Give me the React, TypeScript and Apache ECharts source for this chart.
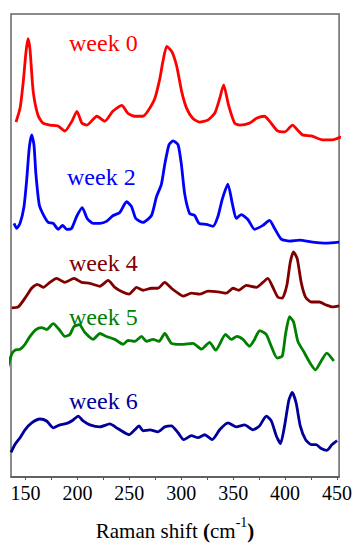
import React, { useEffect, useRef } from "react";
import * as echarts from "echarts";

// Raman shift (cm-1) sample positions and displayed (offset-stacked) intensities, arbitrary units
const week0Shift = [140.8, 144.7, 147.8, 150.4, 152.3, 154.3, 157.4, 162, 166.8, 173.5, 181.2, 187.9, 194.7, 199.5, 204.3, 209.1, 218.7, 226.4, 234, 242.7, 248.5, 255.2, 262.9, 267.7, 274.5, 279.3, 282.2, 286, 290.8, 295.6, 300.4, 305.2, 311, 317.7, 325.4, 332.2, 337, 340.8, 345.6, 351.4, 356.2, 365.8, 372.5, 380.2, 385, 392.7, 399.5, 407.2, 412, 416.8, 425.4, 436, 445.6, 454];
const week0Signal = [361, 375, 402, 432, 446, 435, 392, 368, 360, 358, 357, 352, 362, 372, 360, 358, 367, 362, 372, 378, 370, 367, 367, 372, 385, 405, 422, 438, 433, 418, 392, 375, 365, 361, 363, 370, 385, 399, 378, 360, 358, 360, 365, 367, 362, 352, 351, 358, 353, 348, 347, 343, 343, 346];

const week2Shift = [138.9, 141.5, 144.7, 148.5, 151.1, 153.6, 155.9, 158.1, 160, 163.2, 167.1, 171.9, 176.7, 181.5, 185.7, 189.6, 194.4, 199.2, 204.6, 209.4, 215.1, 221.6, 228, 234.4, 240.8, 247.3, 252.1, 256.2, 263.2, 271.3, 276.1, 280.9, 284.1, 288.2, 292.1, 296.9, 300.1, 303.3, 308.1, 312.9, 317.1, 324.2, 330.5, 335.3, 339.6, 344.9, 349.2, 353, 357.8, 364.2, 370.6, 378.6, 385, 389.8, 396.3, 404.3, 413.9, 426.7, 439.6, 452];
const week2Signal = [258, 253, 258, 275, 302, 335, 348, 338, 308, 277, 267, 259, 258, 252, 256, 252, 253, 265, 274, 263, 258, 258, 260, 266, 269, 280, 275, 263, 259, 266, 285, 298, 318, 338, 342, 338, 318, 288, 268, 266, 258, 257, 255, 265, 283, 298, 278, 263, 267, 262, 252, 256, 261, 253, 242, 240, 241, 239, 238, 239];

const week4Shift = [136.7, 143, 149.5, 155.9, 161.3, 167.1, 173.5, 179.9, 187.9, 196.6, 204, 212, 221.6, 229.6, 236, 244, 249.8, 256.9, 263.2, 271.3, 277.6, 284.1, 290.5, 296.9, 301.7, 309.8, 317.7, 325.7, 337, 343.4, 349.8, 355.5, 362.6, 372.3, 378.6, 383.4, 388.2, 393, 397.3, 401.7, 404.9, 408.1, 411.7, 415.5, 419.7, 425.1, 433.1, 439.6, 445.9, 452];
const week4Signal = [172, 173, 182, 192, 196, 193, 198, 202, 198, 202, 198, 197, 194, 200, 193, 188, 186, 193, 190, 192, 192, 198, 192, 187, 184, 187, 186, 189, 188, 187, 192, 190, 195, 193, 198, 202, 193, 183, 182, 195, 218, 229, 222, 198, 183, 178, 178, 175, 173, 174];

const week5Shift = [132.4, 136.7, 139.8, 144.7, 149.5, 154.3, 160, 165.5, 170.3, 176.7, 182.4, 187.9, 192.7, 196.6, 201.7, 207.2, 215.1, 221.6, 228, 236, 244, 248.8, 255.2, 261.7, 266.5, 272.8, 278.6, 284.1, 290.5, 300.1, 311.3, 319.4, 327.3, 333.1, 342.7, 348.2, 353.6, 359.4, 365.8, 370.6, 375.4, 381.9, 386.7, 392.4, 397.3, 400.4, 404.3, 408.1, 412.3, 417.7, 423.5, 429.3, 434.8, 440.1, 446.9];
const week5Signal = [110, 125, 129, 130, 135, 143, 150, 152, 150, 156, 150, 143, 145, 153, 155, 147, 140, 146, 143, 140, 135, 139, 138, 143, 138, 140, 138, 146, 136, 135, 136, 130, 137, 129, 145, 140, 143, 140, 133, 140, 149, 145, 133, 121, 123, 145, 163, 158, 138, 128, 117, 109, 118, 126, 118];

const week6Shift = [136, 139.8, 144.7, 149.5, 155.9, 163.9, 170.3, 176.7, 183.1, 191.1, 195.9, 200.7, 205.5, 212, 221.6, 231.2, 239.2, 249.8, 255.2, 259.4, 263.2, 269.7, 277.6, 284.1, 290.5, 296.9, 302.3, 309.8, 316.1, 322.5, 329.9, 337, 345, 353, 361, 369, 375.4, 381.9, 386.7, 391.5, 395.6, 399.5, 403.6, 406.9, 410.7, 414.6, 419.7, 425.1, 429.9, 434.8, 440.1, 445.3, 450.1];
const week6Signal = [25, 33, 40, 48, 55, 59, 57, 50, 53, 55, 58, 62, 57, 53, 51, 54, 49, 43, 48, 52, 47, 48, 46, 51, 52, 45, 38, 42, 40, 43, 38, 48, 55, 51, 53, 48, 52, 62, 57, 42, 34, 52, 78, 86, 75, 52, 38, 33, 33, 29, 27, 33, 37];

const seriesNames = ["week 0", "week 2", "week 4", "week 5", "week 6"];
const seriesColors = ["#ff0000", "#0000ff", "#800000", "#008000", "#000099"];
const shifts = [week0Shift, week2Shift, week4Shift, week5Shift, week6Shift];
const signals = [week0Signal, week2Signal, week4Signal, week5Signal, week6Signal];

const xMin = 136;
const xMax = 452;
// top-left corners of the week labels
const labelPos = [
  [69, 31],
  [67, 164.5],
  [69, 251],
  [69, 305],
  [69, 388.5],
];

const SERIF = "Times New Roman";

export default function App() {
  const ref = useRef<HTMLDivElement>(null);
  useEffect(() => {
    if (!ref.current) return;
    const chart = echarts.init(ref.current, null, { renderer: "svg" });
    chart.setOption({
      animation: false,
      grid: {
        left: 11,
        top: 14,
        right: 15,
        bottom: 61,
        show: true,
        borderColor: "#666666",
        borderWidth: 1.5,
        containLabel: false,
      },
      xAxis: {
        type: "value",
        min: xMin,
        max: xMax,
        minInterval: 25,
        maxInterval: 25,
        splitLine: { show: false },
        axisLine: { show: true, lineStyle: { color: "#555555", width: 1.5 } },
        axisTick: { show: true, inside: false, length: 3, lineStyle: { color: "#555555", width: 1 } },
        axisLabel: {
          color: "#000000",
          fontFamily: SERIF,
          fontSize: 20,
          margin: 6,
          showMinLabel: false,
          showMaxLabel: false,
          formatter: (v: number) => (v % 50 === 0 ? String(v) : ""),
        },
        name: "{a|Raman shift }{b|(}{a|cm}{s|-1}{b|)}",
        nameLocation: "middle",
        nameGap: 38,
        nameTextStyle: {
          color: "#000000",
          fontFamily: SERIF,
          rich: {
            a: { fontFamily: SERIF, fontSize: 21, color: "#000", verticalAlign: "bottom", lineHeight: 26 },
            b: { fontFamily: SERIF, fontSize: 21, fontWeight: "bold", color: "#000", verticalAlign: "bottom", lineHeight: 26 },
            s: { fontFamily: SERIF, fontSize: 14, color: "#000", verticalAlign: "top", lineHeight: 26 },
          },
        },
      },
      yAxis: {
        type: "value",
        min: 0,
        max: 471,
        show: false,
      },
      graphic: seriesNames.map((n, i) => ({
        type: "text",
        x: labelPos[i][0],
        y: labelPos[i][1],
        style: {
          text: n,
          fill: seriesColors[i],
          fontFamily: SERIF,
          fontSize: 24,
        },
      })),
      series: seriesNames.map((n, i) => ({
        name: n,
        type: "line",
        showSymbol: false,
        smooth: 0.2,
        clip: false,
        lineStyle: { color: seriesColors[i], width: 2.8 },
        data: shifts[i].map((x, j) => [x, signals[i][j]]),
      })),
    });
    return () => chart.dispose();
  }, []);
  return <div ref={ref} style={{ width: 355, height: 546, position: "absolute", left: 0, top: 0 }} />;
}
